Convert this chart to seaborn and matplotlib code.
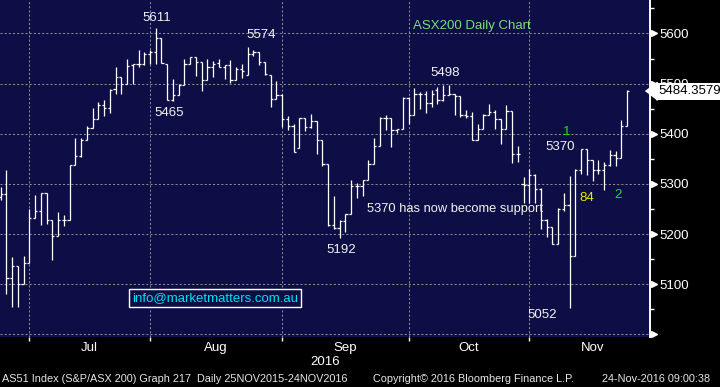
import numpy as np
import pandas as pd
import matplotlib
matplotlib.use("Agg")
import matplotlib.pyplot as plt
import seaborn as sns
from matplotlib.transforms import blended_transform_factory

# ASX200 daily bars, 23 Jun 2016 - 23 Nov 2016
dates = pd.bdate_range("2016-06-23", "2016-11-23")

opens = [5275, 5281, 5112, 5136, 5101, 5142, 5232, 5246, 5282, 5228,
         5196, 5228, 5229, 5338, 5355, 5388, 5412, 5430, 5457, 5452,
         5490, 5513, 5500, 5537, 5540, 5540, 5560, 5563, 5590, 5540,
         5467, 5477, 5498, 5539, 5553, 5543, 5508, 5533, 5541, 5533,
         5537, 5508, 5530, 5517, 5560, 5563, 5543, 5518, 5470, 5477,
         5430, 5416, 5372, 5431, 5413, 5425, 5387, 5340, 5219, 5213,
         5226, 5240, 5295, 5295, 5307, 5340, 5375, 5432, 5432, 5407,
         5410, 5472, 5437, 5480, 5480, 5462, 5487, 5468, 5477, 5480,
         5475, 5437, 5436, 5388, 5410, 5437, 5443, 5430, 5409, 5445,
         5360, 5300, 5297, 5317, 5290, 5228, 5215, 5180, 5250, 5258,
         5157, 5328, 5370, 5347, 5327, 5328, 5338, 5358, 5352, 5415]
highs = [5293, 5327, 5155, 5136, 5157, 5250, 5279, 5282, 5282, 5228,
         5245, 5239, 5338, 5392, 5392, 5416, 5452, 5463, 5467, 5490,
         5533, 5513, 5550, 5540, 5567, 5563, 5567, 5611, 5590, 5540,
         5510, 5500, 5550, 5553, 5553, 5543, 5550, 5545, 5550, 5537,
         5547, 5533, 5540, 5574, 5567, 5563, 5543, 5518, 5505, 5479,
         5435, 5420, 5431, 5431, 5440, 5425, 5387, 5340, 5277, 5228,
         5241, 5307, 5301, 5307, 5348, 5392, 5433, 5437, 5432, 5410,
         5473, 5473, 5492, 5483, 5485, 5487, 5493, 5497, 5498, 5480,
         5475, 5448, 5443, 5419, 5439, 5460, 5448, 5430, 5457, 5445,
         5375, 5313, 5330, 5320, 5292, 5230, 5215, 5253, 5282, 5315,
         5330, 5370, 5370, 5347, 5347, 5343, 5367, 5365, 5427, 5488]
lows = [5268, 5081, 5055, 5055, 5101, 5142, 5232, 5219, 5221, 5149,
        5196, 5217, 5229, 5338, 5353, 5388, 5412, 5430, 5435, 5441,
        5480, 5480, 5500, 5500, 5533, 5537, 5540, 5540, 5542, 5467,
        5465, 5477, 5498, 5539, 5515, 5485, 5508, 5513, 5533, 5510,
        5501, 5507, 5512, 5517, 5555, 5538, 5517, 5453, 5470, 5413,
        5407, 5363, 5372, 5405, 5412, 5360, 5335, 5217, 5210, 5192,
        5205, 5240, 5273, 5277, 5307, 5340, 5375, 5408, 5373, 5401,
        5410, 5420, 5437, 5450, 5441, 5453, 5460, 5466, 5477, 5437,
        5433, 5432, 5388, 5388, 5410, 5437, 5410, 5380, 5409, 5341,
        5343, 5263, 5262, 5262, 5210, 5195, 5180, 5180, 5247, 5052,
        5157, 5320, 5317, 5305, 5320, 5288, 5335, 5335, 5352, 5415]
closes = [5281, 5112, 5136, 5101, 5142, 5232, 5246, 5282, 5228, 5196,
          5228, 5229, 5338, 5355, 5388, 5412, 5430, 5457, 5452, 5488,
          5513, 5500, 5535, 5540, 5540, 5560, 5563, 5590, 5542, 5467,
          5477, 5498, 5539, 5553, 5543, 5508, 5533, 5540, 5533, 5537,
          5508, 5530, 5525, 5560, 5563, 5543, 5520, 5470, 5477, 5430,
          5416, 5363, 5431, 5413, 5425, 5387, 5339, 5219, 5213, 5226,
          5240, 5295, 5295, 5307, 5340, 5375, 5432, 5432, 5407, 5410,
          5472, 5437, 5480, 5480, 5462, 5480, 5468, 5477, 5480, 5475,
          5437, 5436, 5388, 5410, 5437, 5443, 5430, 5409, 5445, 5360,
          5360, 5297, 5317, 5290, 5228, 5215, 5180, 5250, 5258, 5157,
          5328, 5370, 5347, 5327, 5328, 5338, 5358, 5352, 5415, 5484.3579]

month_labels = ["Jul", "Aug", "Sep", "Oct", "Nov"]
y_ticks = [5000, 5100, 5200, 5300, 5400, 5500, 5600]
y_tick_labels = ["", "5100", "5200", "5300", "5400", "5500", "5600"]
last_price_label = "5484.3579"

NAVY = "#0e0e46"
GRID = "#8c8c8c"

sns.set_theme(style="dark", rc={"axes.facecolor": NAVY, "figure.facecolor": "black"})
plt.rcParams["font.family"] = ["Liberation Sans", "DejaVu Sans"]

df = pd.DataFrame({"date": dates, "open": opens, "high": highs, "low": lows, "close": closes})
df["pos"] = np.arange(len(df))

fig = plt.figure(figsize=(7.2, 3.87), dpi=100)
ax = fig.add_axes([0, 1 - 336.5 / 387, 650 / 720, 336.5 / 387])
ax.set_facecolor(NAVY)

# bars: high-low line, open tick to the left, close tick to the right
w = 0.38
ax.vlines(df["pos"], df["low"], df["high"], color="white", lw=0.9, zorder=3)
ax.hlines(df["open"], df["pos"] - w, df["pos"], color="white", lw=0.9, zorder=3)
ax.hlines(df["close"], df["pos"], df["pos"] + w, color="white", lw=0.9, zorder=3)

# month boundaries (last trading day of each month)
month_end = df.groupby(df["date"].dt.month)["pos"].max()
ends = list(month_end.loc[[6, 7, 8, 9, 10]])
nov_end = ends[-1] + np.busday_count("2016-11-01", "2016-12-01")
mids = [(a + b) / 2 for a, b in zip(ends, ends[1:] + [nov_end])]

ax.set_xlim(-0.1, 113.0)
ax.set_ylim(4996, 5666.7)

ax.set_xticks(ends)
ax.set_xticklabels([""] * len(ends))
ax.set_xticks(mids, minor=True)
ax.set_xticklabels(month_labels, minor=True)
ax.tick_params(axis="x", which="major", length=3, width=1, color="white", direction="out", bottom=True)
ax.tick_params(axis="x", which="minor", length=0, pad=4, labelsize=9.5, labelcolor="white")

ax.yaxis.tick_right()
ax.set_yticks(y_ticks)
ax.set_yticklabels(y_tick_labels)
ax.set_yticks(np.arange(5050, 5651, 100), minor=True)
ax.tick_params(axis="y", which="major", length=3, width=1, color="white", pad=4,
               labelsize=9.5, labelcolor="white", right=True)
ax.tick_params(axis="y", which="minor", length=3, width=1, color="white", right=True)

ax.grid(True, which="major", color=GRID, linestyle=(0, (2, 2)), linewidth=0.75)
ax.set_axisbelow(True)
for side in ["left", "top", "bottom"]:
    ax.spines[side].set_visible(False)
ax.spines["right"].set_color("white")
ax.spines["right"].set_linewidth(1.4)

# bloomberg style arrow heads on the right axis
trans = blended_transform_factory(ax.transAxes, ax.transData)
ax.plot([1 + 4 / 650] * len(y_ticks), y_ticks, ls="none", marker=">", ms=4.5,
        color="white", transform=trans, clip_on=False, zorder=5)

# last price tag
last = df["close"].iloc[-1]
ax.text(1 + 8 / 650, last, last_price_label, transform=trans, ha="left", va="center",
        fontsize=9.5, color="black", zorder=12, clip_on=False,
        bbox=dict(boxstyle="square,pad=0.18", fc="white", ec="none"))
ax.plot([1 + 4 / 650], [last], ls="none", marker=[(-1, 0), (0.3, 1), (0.3, -1)], ms=13,
        color="white", transform=trans, clip_on=False, zorder=12)


def fxy(x, y):
    return x / 720, 1 - y / 387


txt = dict(color="#f2f2f2", fontsize=9.5, ha="center", va="center")
fig.text(*fxy(157, 18), "5611", **txt)
fig.text(*fxy(169, 113), "5465", **txt)
fig.text(*fxy(261, 35), "5574", **txt)
fig.text(*fxy(445, 73), "5498", **txt)
fig.text(*fxy(341, 250), "5192", **txt)
fig.text(*fxy(542, 315), "5052", **txt)
fig.text(*fxy(560, 147), "5370", **txt)
fig.text(*fxy(367, 209), "5370 has now become support", color="#f2f2f2", fontsize=9.3,
         ha="left", va="center", zorder=10)
fig.text(*fxy(413, 26), "ASX200 Daily Chart", color="#78e078", fontsize=9.5, ha="left", va="center")
fig.text(*fxy(567, 132), "1", color="#22dd22", fontsize=9.5, ha="center", va="center")
fig.text(*fxy(618, 195), "2", color="#22dd22", fontsize=9.5, ha="center", va="center")
fig.text(*fxy(587, 198), "84", color="#e8e800", fontsize=9.5, ha="center", va="center")
fig.text(*fxy(215, 298), "info@marketmatters.com.au", color="#00e0f0", fontsize=9.5,
         ha="center", va="center",
         bbox=dict(boxstyle="square,pad=0.2", fc=NAVY, ec="white", lw=1))

fig.text(*fxy(325, 362), "2016", color="white", fontsize=9.5, ha="center", va="center")
foot = dict(color="#e6e6e6", fontsize=7.8, ha="left", va="center")
fig.text(*fxy(2, 379), "AS51 Index (S&P/ASX 200) Graph 217  Daily 25NOV2015-24NOV2016", **foot)
fig.text(*fxy(373, 379), "Copyright\u00a9 2016 Bloomberg Finance L.P.", **foot)
fig.text(*fxy(602, 379), "24-Nov-2016 09:00:38", **foot)

fig.savefig("out.png", dpi=100, facecolor="black")
